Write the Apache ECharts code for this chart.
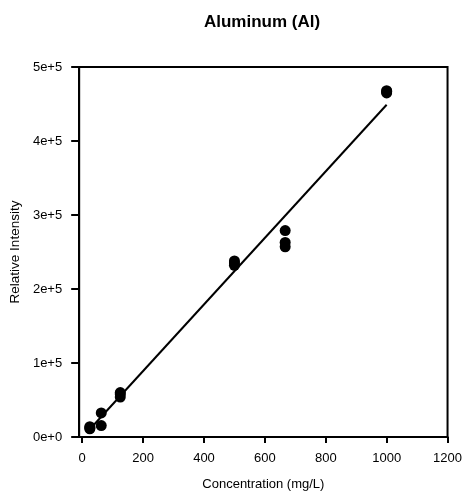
<!DOCTYPE html>
<html>
<head>
<meta charset="utf-8">
<script src="https://cdn.jsdelivr.net/npm/echarts@6/dist/echarts.min.js"></script>
<style>
html,body{margin:0;padding:0;background:#fff;}
#chart{width:465px;height:496px;}
</style>
</head>
<body>
<div id="chart"></div>
<script>
// Data
const concentration = [25, 25, 25, 62.5, 62.5, 125, 125, 125, 500, 500, 500, 666.7, 666.7, 666.7, 1000, 1000, 1000];
const intensity = [11000, 12500, 14000, 15500, 32500, 54000, 58000, 60000, 232000, 235000, 238000, 257000, 263000, 279000, 465000, 467000, 468000];
const fitX = [25, 1000];
const fitY = [10500, 449000];
const xTicks = [0, 200, 400, 600, 800, 1000, 1200];
const yTickLabels = ['0e+0', '1e+5', '2e+5', '3e+5', '4e+5', '5e+5'];

const chart = echarts.init(document.getElementById('chart'), null, {renderer: 'canvas'});
const font = 'Liberation Sans, Arial, sans-serif';
chart.setOption({
  animation: false,
  backgroundColor: '#fff',
  title: {
    text: 'Aluminum (Al)',
    left: 257, top: 9, textAlign: 'center',
    textStyle: {fontFamily: font, fontWeight: 'bold', fontSize: 17, color: '#000'}
  },
  grid: {left: 79, right: 17, top: 67, bottom: 59, show: true, borderColor: '#000', borderWidth: 2},
  xAxis: {
    type: 'value', min: -10, max: 1200,
    name: 'Concentration (mg/L)', nameLocation: 'middle', nameGap: 41,
    nameTextStyle: {fontFamily: font, fontSize: 13, color: '#000'},
    axisLine: {onZero: false, lineStyle: {color: '#000', width: 2}},
    axisTick: {show: true, length: 6, lineStyle: {color: '#000', width: 2}, customValues: xTicks},
    axisLabel: {fontFamily: font, fontSize: 13, color: '#000', margin: 15, customValues: xTicks,
      formatter: function (v) { return String(v); }},
    splitLine: {show: false}
  },
  yAxis: {
    type: 'value', min: 0, max: 500000, interval: 100000,
    name: 'Relative Intensity', nameLocation: 'middle', nameGap: 57, nameRotate: 90,
    nameTextStyle: {fontFamily: font, fontSize: 13.5, color: '#000'},
    axisLine: {onZero: false, lineStyle: {color: '#000', width: 2}},
    axisTick: {show: true, length: 8, lineStyle: {color: '#000', width: 2}},
    axisLabel: {fontFamily: font, fontSize: 13, color: '#000', margin: 17,
      formatter: function (v) { return yTickLabels[Math.round(v / 100000)]; }},
    splitLine: {show: false}
  },
  series: [
    {
      type: 'line',
      data: fitX.map((x, i) => [x, fitY[i]]),
      showSymbol: false, symbol: 'none',
      lineStyle: {color: '#000', width: 2},
      z: 2
    },
    {
      type: 'scatter',
      data: concentration.map((x, i) => [x, intensity[i]]),
      symbol: 'circle', symbolSize: 11,
      itemStyle: {color: '#000', opacity: 1},
      z: 3
    }
  ]
});
</script>
</body>
</html>
